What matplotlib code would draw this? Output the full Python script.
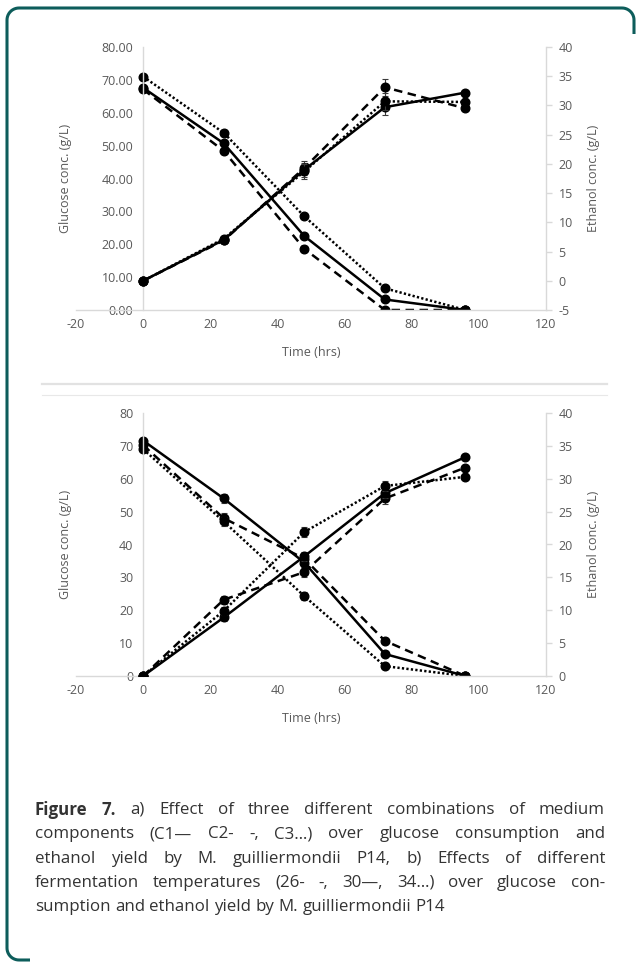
import numpy as np
import matplotlib
matplotlib.use("Agg")
import matplotlib.pyplot as plt
from matplotlib.path import Path
from matplotlib.patches import PathPatch
from matplotlib.transforms import Affine2D


W, H = 640, 967

time_hrs = [0, 24, 48, 72, 96]

# a) medium combinations C1 (solid), C2 (dashed), C3 (dotted)
glc_c1 = [67.6, 50.7, 22.5, 3.2, 0.0]
glc_c2 = [67.1, 48.4, 18.6, 0.0, 0.0]
glc_c3 = [71.0, 53.9, 28.5, 6.6, 0.0]
eth_c1 = [0.0, 7.0, 19.0, 29.7, 32.2]
eth_c2 = [0.0, 6.9, 19.3, 33.1, 29.5]
eth_c3 = [0.0, 7.2, 18.7, 30.7, 30.6]
glc_c_err = [0.0, 0.8, 0.6, 0.0, 0.0]
eth_c_err = [0.0, 0.5, 1.2, 1.4, 0.3]

# b) temperatures 26 (dashed), 30 (solid), 34 (dotted)
glc_26 = [70.2, 48.0, 35.7, 10.7, 0.0]
glc_30 = [71.6, 54.0, 34.5, 6.7, 0.0]
glc_34 = [69.0, 47.0, 24.3, 3.0, 0.0]
eth_26 = [0.0, 11.6, 15.8, 27.0, 31.7]
eth_30 = [0.0, 8.9, 18.2, 27.8, 33.3]
eth_34 = [0.0, 9.9, 21.9, 28.9, 30.3]
glc_t_err = [0.0, 1.5, 1.2, 0.0, 0.0]
eth_t_err = [0.0, 0.6, 0.7, 0.8, 0.4]

x_ticks = [-20, 0, 20, 40, 60, 80, 100, 120]

caption = [
    [("Figure 7.", "bold"), "a) Effect of three different combinations of medium"],
    ["components (C1\u2014 C2- -, C3\u2026) over glucose consumption and"],
    ["ethanol yield by M. guilliermondii P14, b) Effects of different"],
    ["fermentation temperatures (26- -, 30\u2014, 34\u2026) over glucose con-"],
    ["sumption and ethanol yield by M. guilliermondii P14"],
]

AXIS = "#d9d9d9"
TICK = "#595959"
TEAL = "#0d5d5b"
CAP_SIZE = 12.2

SOLID = dict(linestyle="-")
DASHED = dict(linestyle=(0, (3.4, 2.2)))
DOTTED = dict(linestyle=(0, (0.9, 0.9)))

plt.rcParams["font.family"] = ["Open Sans", "DejaVu Sans"]
plt.rcParams["axes.unicode_minus"] = False

fig = plt.figure(figsize=(W / 100, H / 100), dpi=100)


def px(x, y):
    return x / W, 1 - y / H


def panel(top, glc, eth, glc_err, eth_err, styles, ylim_l, yticks_l, yfmt, ylim_r, yticks_r):
    x0, y1 = px(76, top)
    x1, y0 = px(546, top + 263)
    ax = fig.add_axes([x0, y0, x1 - x0, y1 - y0])
    ax2 = ax.twinx()
    for vals, style in zip(glc, styles):
        ax.errorbar(time_hrs, vals, yerr=glc_err, fmt="none", ecolor="#3a3a3a",
                elinewidth=0.8, capsize=2.5, capthick=0.8)
        ax.plot(time_hrs, vals, color="black", lw=1.8, marker="o", ms=6.2,
                **style)
    for vals, style in zip(eth, styles):
        ax2.errorbar(time_hrs, vals, yerr=eth_err, fmt="none", ecolor="#3a3a3a",
                elinewidth=0.8, capsize=2.5, capthick=0.8)
        ax2.plot(time_hrs, vals, color="black", lw=1.8, marker="o", ms=6.2,
                **style)
    ax.set_xlim(-20, 120)
    ax.set_ylim(*ylim_l)
    ax2.set_ylim(*ylim_r)
    ax.set_xticks(x_ticks)
    ax.set_yticks(yticks_l)
    ax.set_yticklabels([yfmt % v for v in yticks_l])
    ax2.set_yticks(yticks_r)
    ax.spines["left"].set_position(("data", 0))
    for s in ["top", "right"]:
        ax.spines[s].set_visible(False)
    for s in ["top", "left", "bottom"]:
        ax2.spines[s].set_visible(False)
    for s in [ax.spines["left"], ax.spines["bottom"], ax2.spines["right"]]:
        s.set_color(AXIS)
        s.set_linewidth(1.0)
    ax.tick_params(axis="both", length=0, labelcolor=TICK, labelsize=9)
    ax.tick_params(axis="y", pad=7)
    ax.tick_params(axis="x", pad=6)
    ax2.tick_params(axis="y", length=4, width=1.0, color=AXIS, labelcolor=TICK,
            labelsize=9, pad=5)
    ax.patch.set_alpha(0)
    cy = top + 131.5
    fig.text(*px(65, cy), "Glucose conc. (g/L)", rotation=90, ha="center",
            va="center", color=TICK, fontsize=9)
    fig.text(*px(594, cy), "Ethanol conc. (g/L)", rotation=90, ha="center",
            va="center", color=TICK, fontsize=9)
    fig.text(*px(311, top + 306), "Time (hrs)", ha="center", va="center",
            color=TICK, fontsize=9)
    return ax


panel(47, [glc_c1, glc_c2, glc_c3], [eth_c1, eth_c2, eth_c3], glc_c_err, eth_c_err,
        [SOLID, DASHED, DOTTED], (0, 80), range(0, 81, 10), "%.2f", (-5, 40),
        range(-5, 41, 5))
panel(413, [glc_26, glc_30, glc_34], [eth_26, eth_30, eth_34], glc_t_err, eth_t_err,
        [DASHED, SOLID, DOTTED], (0, 80), range(0, 81, 10), "%d", (0, 40),
        range(0, 41, 5))

# divider between the two panels
to_px = Affine2D().scale(1.0 / W, -1.0 / H).translate(0, 1) + fig.transFigure
fig.add_artist(plt.Line2D([42, 607], [383.5, 383.5], transform=to_px,
        color="#e2e2e2", lw=1.6))
fig.add_artist(plt.Line2D([42, 607], [395, 395], transform=to_px,
        color="#e8e8e8", lw=0.8))

# rounded border (left and top edges)
r = 12
ang = np.linspace(0, np.pi / 2, 12)
pts = [(634, 34), (634, 8 + r)]
pts += [(634 - r + r * np.cos(a), 8 + r - r * np.sin(a)) for a in ang]
pts += [(7 + r - r * np.sin(a), 8 + r - r * np.cos(a)) for a in ang]
pts += [(7 + r - r * np.cos(a), 960 - r + r * np.sin(a)) for a in ang]
pts += [(30, 960)]
fig.add_artist(PathPatch(Path(pts), transform=to_px, fill=False,
        edgecolor=TEAL, lw=2.2))

# justified caption
fig.canvas.draw()
renderer = fig.canvas.get_renderer()
probe = fig.text(0, 0, "a b", fontsize=CAP_SIZE)
space = probe.get_window_extent(renderer).width
probe.set_text("ab")
space -= probe.get_window_extent(renderer).width
probe.remove()
cap_left, cap_right = 35, 605
for i, line in enumerate(caption):
    words = []
    for part in line:
        if isinstance(part, tuple):
            words += [(w, part[1]) for w in part[0].split()]
        else:
            words += [(w, "normal") for w in part.split()]
    texts = [fig.text(0, 0, w, fontsize=CAP_SIZE, fontweight=wt, color="#333333",
            va="center", ha="left") for w, wt in words]
    widths = [t.get_window_extent(renderer).width for t in texts]
    if i == len(caption) - 1:
        gap = space
    else:
        gap = (cap_right - cap_left - sum(widths)) / (len(words) - 1)
    x = cap_left
    for t, w in zip(texts, widths):
        t.set_position(px(x, 810 + 24.3 * i))
        x += w + gap

fig.savefig("out.png", dpi=100)
